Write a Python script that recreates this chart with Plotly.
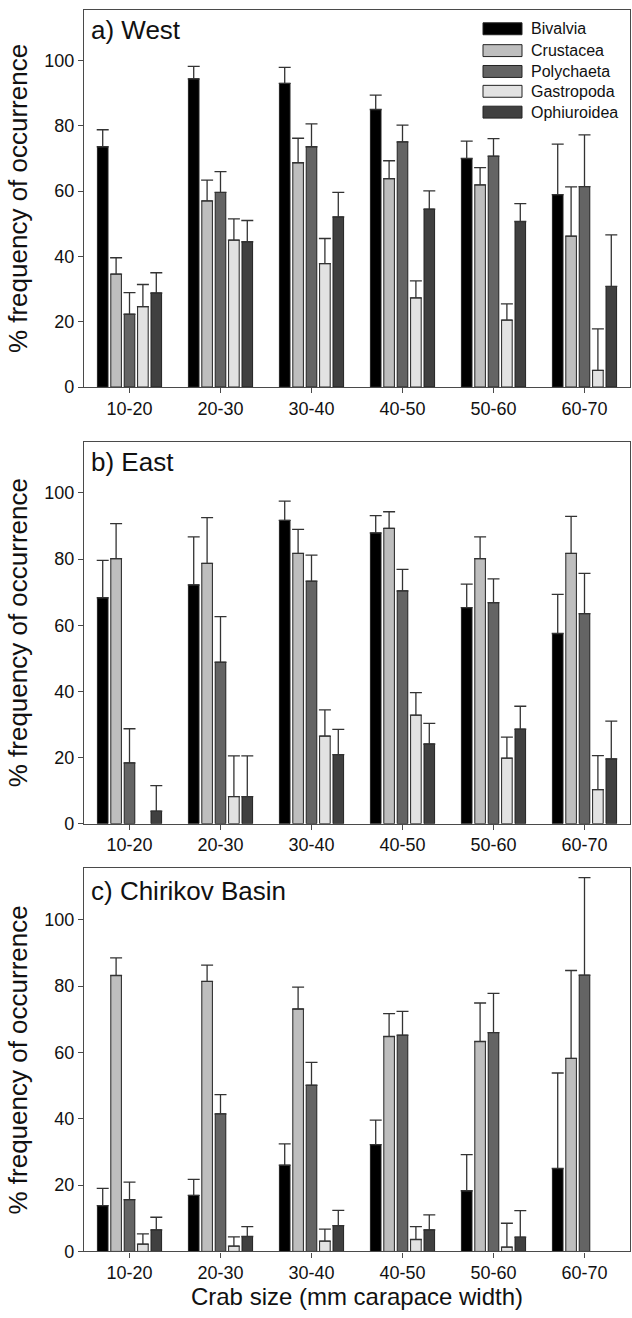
import plotly.graph_objects as go

# ---------------- data ----------------
sizes = ["10-20", "20-30", "30-40", "40-50", "50-60", "60-70"]
series = ["Bivalvia", "Crustacea", "Polychaeta", "Gastropoda", "Ophiuroidea"]
colors = ["#000000", "#bebebe", "#646464", "#e2e2e2", "#404040"]
panel_titles = ["a) West", "b) East", "c) Chirikov Basin"]

# a) West : mean % frequency and top of the error whisker
west_bivalvia = [73.6, 94.4, 93.0, 85.0, 70.0, 58.9]
west_bivalvia_top = [78.8, 98.2, 97.9, 89.4, 75.3, 74.4]
west_crustacea = [34.6, 57.0, 68.7, 63.8, 61.9, 46.2]
west_crustacea_top = [39.6, 63.4, 76.2, 69.3, 67.2, 61.3]
west_polychaeta = [22.3, 59.6, 73.6, 75.1, 70.7, 61.4]
west_polychaeta_top = [28.9, 66.0, 80.6, 80.2, 76.1, 77.2]
west_gastropoda = [24.6, 45.0, 37.8, 27.3, 20.5, 5.1]
west_gastropoda_top = [31.4, 51.5, 45.5, 32.5, 25.5, 17.8]
west_ophiuroidea = [28.8, 44.5, 52.1, 54.5, 50.7, 30.8]
west_ophiuroidea_top = [35.0, 51.0, 59.6, 60.1, 56.2, 46.6]

# b) East
east_bivalvia = [68.3, 72.2, 91.7, 87.9, 65.3, 57.5]
east_bivalvia_top = [79.6, 86.7, 97.5, 93.1, 72.4, 69.3]
east_crustacea = [80.1, 78.7, 81.7, 89.3, 80.1, 81.7]
east_crustacea_top = [90.7, 92.5, 89.0, 94.3, 86.7, 92.9]
east_polychaeta = [18.4, 48.8, 73.3, 70.4, 66.8, 63.5]
east_polychaeta_top = [28.7, 62.6, 81.2, 76.9, 74.0, 75.7]
east_gastropoda = [None, 8.2, 26.5, 32.8, 19.8, 10.3]
east_gastropoda_top = [None, 20.5, 34.4, 39.6, 26.2, 20.6]
east_ophiuroidea = [3.8, 8.2, 20.9, 24.1, 28.6, 19.6]
east_ophiuroidea_top = [11.5, 20.5, 28.5, 30.3, 35.5, 31.0]

# c) Chirikov Basin
chir_bivalvia = [13.8, 16.9, 26.0, 32.2, 18.3, 25.0]
chir_bivalvia_top = [19.0, 21.7, 32.4, 39.6, 29.2, 53.8]
chir_crustacea = [83.2, 81.4, 73.1, 64.8, 63.3, 58.2]
chir_crustacea_top = [88.5, 86.3, 79.7, 71.7, 74.9, 84.7]
chir_polychaeta = [15.6, 41.5, 50.1, 65.2, 66.0, 83.3]
chir_polychaeta_top = [20.9, 47.3, 57.0, 72.4, 77.8, 112.7]
chir_gastropoda = [2.2, 1.6, 3.1, 3.6, 1.3, None]
chir_gastropoda_top = [5.3, 4.4, 6.7, 7.5, 8.5, None]
chir_ophiuroidea = [6.5, 4.5, 7.8, 6.5, 4.3, None]
chir_ophiuroidea_top = [10.3, 7.5, 12.4, 11.0, 12.3, None]

panels = [
    [(west_bivalvia, west_bivalvia_top), (west_crustacea, west_crustacea_top),
     (west_polychaeta, west_polychaeta_top), (west_gastropoda, west_gastropoda_top),
     (west_ophiuroidea, west_ophiuroidea_top)],
    [(east_bivalvia, east_bivalvia_top), (east_crustacea, east_crustacea_top),
     (east_polychaeta, east_polychaeta_top), (east_gastropoda, east_gastropoda_top),
     (east_ophiuroidea, east_ophiuroidea_top)],
    [(chir_bivalvia, chir_bivalvia_top), (chir_crustacea, chir_crustacea_top),
     (chir_polychaeta, chir_polychaeta_top), (chir_gastropoda, chir_gastropoda_top),
     (chir_ophiuroidea, chir_ophiuroidea_top)],
]

# ---------------- layout geometry (pixels) ----------------
W, H = 632, 1318
FONT = "Liberation Sans, Arial, sans-serif"
x_left, x_right = 84, 630
panel_px = [(10, 390), (445, 830), (875, 1261)]  # (top, bottom) of each plot box
title_px = [30, 466, 898]


def py(px):
    return 1 - px / H


fig = go.Figure()
axis_ids = ["", "2", "3"]
for p, data in enumerate(panels):
    for s, (vals, tops) in enumerate(data):
        err = [(t - v) if (v is not None and t is not None) else None
               for v, t in zip(vals, tops)]
        fig.add_trace(go.Bar(
            x=sizes, y=vals, name=series[s],
            marker=dict(color=colors[s], line=dict(color="#222222", width=1)),
            error_y=dict(type="data", symmetric=False, array=err,
                         arrayminus=[0 if e is not None else None for e in err],
                         color="#333333", thickness=1.3, width=6),
            xaxis="x" + axis_ids[p], yaxis="y" + axis_ids[p],
            showlegend=False,
        ))

axis_common = dict(showline=True, mirror=True, linecolor="#4a4a4a", linewidth=1.3,
                   ticks="outside", ticklen=5, tickcolor="#4a4a4a", tickwidth=1.2,
                   showgrid=False, zeroline=False,
                   tickfont=dict(family=FONT, size=18, color="#111111"))

layout = dict(
    width=W, height=H, margin=dict(l=0, r=0, t=0, b=0),
    paper_bgcolor="white", plot_bgcolor="white",
    barmode="group", bargap=0.264, bargroupgap=0.21,
    font=dict(family=FONT, color="#111111"),
)
for p in range(3):
    top, bot = panel_px[p]
    xa = dict(axis_common, domain=[x_left / W, x_right / W], range=[-0.5, 5.5],
              type="category", anchor="y" + axis_ids[p])
    ya = dict(axis_common, domain=[py(bot), py(top)], range=[0, 115.5],
              tickvals=[0, 20, 40, 60, 80, 100], anchor="x" + axis_ids[p],
              title=dict(text="% frequency of occurrence",
                         font=dict(family=FONT, size=26, color="#111111"),
                         standoff=9))
    if p == 2:
        xa["title"] = dict(text="Crab size (mm carapace width)",
                           font=dict(family=FONT, size=24, color="#111111"),
                           standoff=6)
    layout["xaxis" + axis_ids[p]] = xa
    layout["yaxis" + axis_ids[p]] = ya

annotations = []
for p in range(3):
    annotations.append(dict(text=panel_titles[p], xref="paper", yref="paper",
                            x=89 / W, y=py(title_px[p]), xanchor="left", yanchor="middle",
                            showarrow=False, font=dict(family=FONT, size=26, color="#111111")))

# legend drawn as swatches + labels in panel a
shapes = []
leg_rows = [29, 51, 72, 92, 113]
for s in range(len(series)):
    yc = leg_rows[s]
    shapes.append(dict(type="rect", xref="paper", yref="paper",
                       x0=483 / W, x1=522 / W, y0=py(yc + 6), y1=py(yc - 6),
                       fillcolor=colors[s], line=dict(color="#222222", width=1)))
    annotations.append(dict(text=series[s], xref="paper", yref="paper",
                            x=529 / W, y=py(yc), xanchor="left", yanchor="middle",
                            showarrow=False, font=dict(family=FONT, size=16, color="#111111")))

layout["annotations"] = annotations
layout["shapes"] = shapes
fig.update_layout(**layout)
fig.write_html("out.html", config={"displayModeBar": False},
               post_script="document.body.style.margin='0';document.body.style.overflow='hidden';")
